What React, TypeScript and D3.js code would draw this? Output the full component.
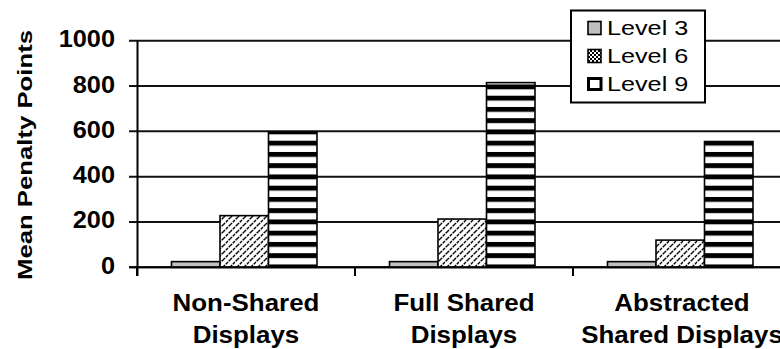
import React from "react";
import * as d3 from "d3";

const categories = [["Non-Shared", "Displays"], ["Full Shared", "Displays"], ["Abstracted", "Shared Displays"]];
const levels = ["Level 3", "Level 6", "Level 9"];
const level3 = [25, 25, 25];
const level6 = [228, 213, 120];
const level9 = [597, 815, 555];
const yTicks = [0, 200, 400, 600, 800, 1000];

const W = 780, H = 349;

export default function App() {
  const series = [level3, level6, level9];
  const fills = ["#c0c0c0", "url(#hatch)", "url(#stripes)"];
  const y = d3.scaleLinear().domain([0, 1000]).range([267.3, 40.7]);
  const x0 = d3.scaleBand<number>().domain([0, 1, 2]).range([137, 137 + 3 * 218]).padding(0);
  const x1 = d3.scaleBand<number>().domain([0, 1, 2]).range([34.5, 34.5 + 145.5]).padding(0);
  const font = "'Liberation Sans', Arial, Helvetica, sans-serif";

  return (
    <svg width={W} height={H} style={{ position: "fixed", left: 0, top: 0, background: "#fff" }} fontFamily={font}>
      <defs>
        <pattern id="hatch" patternUnits="userSpaceOnUse" width="7" height="7">
          <rect width="7" height="7" fill="#fff" />
          <path d="M-1,8 L8,-1 M-1,1 L1,-1 M6,8 L8,6" stroke="#000" strokeWidth="1.4" strokeDasharray="3,1" />
        </pattern>
        <pattern id="stripes" patternUnits="userSpaceOnUse" width="10" height="11.25" y="95.7">
          <rect width="10" height="11.25" fill="#fff" />
          <rect width="10" height="4.9" fill="#000" />
        </pattern>
        <pattern id="hatchSmall" patternUnits="userSpaceOnUse" width="4" height="4">
          <rect width="4" height="4" fill="#fff" />
          <rect width="2" height="2" fill="#000" />
          <rect x="2" y="2" width="2" height="2" fill="#000" />
        </pattern>
        <clipPath id="clip"><rect x="0" y="0" width={W} height={H} /></clipPath>
      </defs>
      <g clipPath="url(#clip)">
        {yTicks.map((t) => (
          <line key={"g" + t} x1={129} x2={W} y1={y(t)} y2={y(t)} stroke="#111" strokeWidth={2} />
        ))}
        {yTicks.map((t) => (
          <text key={"t" + t} x={115} y={y(t) + 6.5} textAnchor="end" fontWeight="bold" fontSize={23}
            transform={`translate(115,0) scale(1.1,1) translate(-115,0)`} fill="#000">{t}</text>
        ))}
        {series.map((vals, s) =>
          vals.map((v, i) => (
            <rect key={`b${s}-${i}`} x={(x0(i) as number) + (x1(s) as number)} y={y(v)}
              width={x1.bandwidth()} height={y(0) - y(v)} fill={fills[s]} stroke="#000" strokeWidth={1.6} />
          ))
        )}
        <line x1={137.5} x2={137.5} y1={y(1000)} y2={276} stroke="#000" strokeWidth={2} />
        <line x1={129} x2={W} y1={y(0)} y2={y(0)} stroke="#000" strokeWidth={2} />
        {[0, 1, 2].map((i) => (
          <line key={"xt" + i} x1={x0(i) as number} x2={x0(i) as number} y1={y(0)} y2={276} stroke="#000" strokeWidth={2} />
        ))}
        {categories.map((c, i) => {
          const cx = (x0(i) as number) + x0.bandwidth() / 2;
          return (
            <text key={"c" + i} textAnchor="middle" fontWeight="bold" fontSize={24} fill="#000"
              transform={`translate(${cx},0) scale(1.08,1)`}>
              <tspan x={0} y={311.5}>{c[0]}</tspan>
              <tspan x={0} y={343}>{c[1]}</tspan>
            </text>
          );
        })}
        <text transform="translate(32,155) rotate(-90)" textAnchor="middle" fontWeight="bold" fontSize={20}
          textLength={250} lengthAdjust="spacingAndGlyphs" fill="#000">Mean Penalty Points</text>
        <rect x={571} y={10.5} width={134} height={92} fill="#fff" stroke="#000" strokeWidth={2} />
        {levels.map((l, i) => {
          const by = 35 + i * 28;
          const sw = [
            <rect key="s" x={588} y={by - 13.5} width={13} height={13} fill="#c0c0c0" stroke="#000" strokeWidth={1.6} />,
            <rect key="s" x={588} y={by - 13.5} width={13} height={13} fill="url(#hatchSmall)" stroke="#000" strokeWidth={1.6} />,
            <rect key="s" x={588.5} y={by - 12.5} width={12.5} height={11} fill="#fff" stroke="#000" strokeWidth={3} />,
          ][i];
          return (
            <g key={"l" + i}>
              {sw}
              <text x={0} y={by} fontSize={21} fill="#000" transform="translate(607,0) scale(1.2,1)">{l}</text>
            </g>
          );
        })}
      </g>
    </svg>
  );
}
